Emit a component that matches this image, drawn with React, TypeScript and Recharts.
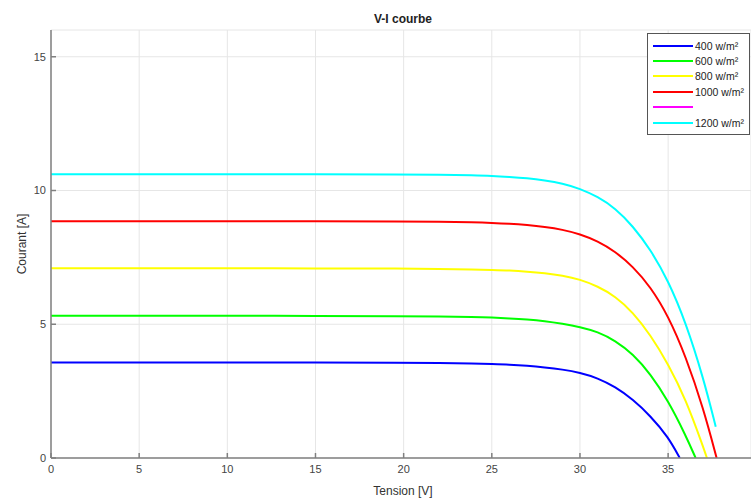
import { CartesianGrid, Legend, Line, LineChart, XAxis, YAxis } from 'recharts';

// tension (V) / courant (A) samples per irradiance
const voltsBlue = [0, 5, 10, 15, 20, 22, 24, 25, 26, 27, 28, 29, 30, 31, 32, 33, 34, 35, 35.66];
const ampsBlue = [3.57, 3.57, 3.57, 3.57, 3.56, 3.55, 3.53, 3.51, 3.49, 3.45, 3.39, 3.31, 3.19, 2.99, 2.66, 2.19, 1.57, 0.79, 0];

const voltsGreen = [0, 5, 10, 15, 20, 22, 24, 25, 26, 27, 28, 29, 30, 31, 32, 33, 34, 35, 36, 36.56];
const ampsGreen = [5.32, 5.32, 5.32, 5.31, 5.3, 5.29, 5.27, 5.25, 5.22, 5.18, 5.12, 5.02, 4.9, 4.72, 4.39, 3.89, 3.14, 2.14, 0.84, 0];

const voltsYellow = [0, 5, 10, 15, 20, 22, 24, 25, 26, 27, 28, 29, 30, 31, 32, 33, 34, 35, 36, 37, 37.2];
const ampsYellow = [7.09, 7.09, 7.09, 7.09, 7.08, 7.07, 7.05, 7.03, 7.01, 6.97, 6.91, 6.82, 6.68, 6.42, 6.05, 5.45, 4.6, 3.52, 2.2, 0.4, 0];

const voltsRed = [0, 5, 10, 15, 20, 22, 24, 25, 26, 27, 28, 29, 30, 31, 32, 33, 34, 35, 36, 37, 37.75];
const ampsRed = [8.85, 8.85, 8.85, 8.85, 8.84, 8.83, 8.81, 8.79, 8.76, 8.71, 8.64, 8.54, 8.37, 8.11, 7.72, 7.16, 6.4, 5.32, 3.8, 1.85, 0];

const voltsCyan = [0, 5, 10, 15, 20, 22, 24, 25, 26, 27, 28, 29, 30, 31, 32, 33, 34, 35, 36, 37, 37.7];
const ampsCyan = [10.61, 10.61, 10.61, 10.61, 10.6, 10.59, 10.57, 10.55, 10.51, 10.46, 10.38, 10.27, 10.07, 9.77, 9.34, 8.67, 7.79, 6.64, 5.07, 2.99, 1.17];

const xTicks = [0, 5, 10, 15, 20, 25, 30, 35];
const yTicks = [0, 5, 10, 15];

// the magenta entry has no curve and no label
const legendItems = [
  { label: '400 w/m²', color: '#0000ff' },
  { label: '600 w/m²', color: '#00ff00' },
  { label: '800 w/m²', color: '#ffff00' },
  { label: '1000 w/m²', color: '#ff0000' },
  { label: '', color: '#ff00ff' },
  { label: '1200 w/m²', color: '#00ffff' },
];

const toPoints = (volts: number[], amps: number[]) => volts.map((v, k) => ({ v, i: amps[k] }));

const series = [
  { name: '400 w/m²', color: '#0000ff', data: toPoints(voltsBlue, ampsBlue) },
  { name: '600 w/m²', color: '#00ff00', data: toPoints(voltsGreen, ampsGreen) },
  { name: '800 w/m²', color: '#ffff00', data: toPoints(voltsYellow, ampsYellow) },
  { name: '1000 w/m²', color: '#ff0000', data: toPoints(voltsRed, ampsRed) },
  { name: '1200 w/m²', color: '#00ffff', data: toPoints(voltsCyan, ampsCyan) },
];

const font = '"Liberation Sans", Arial, sans-serif';
const axisColor = '#808080';
const tickStyle = { fontSize: 11, fill: '#444', fontFamily: font };

function LegendBox() {
  return (
    <div
      style={{
        border: '1px solid #555',
        background: '#fff',
        padding: '4px 0 4px 5px',
        fontFamily: font,
        fontSize: 10.5,
        color: '#222',
        boxSizing: 'border-box',
        width: 103,
      }}
    >
      {legendItems.map((item, k) => (
        <div key={k} style={{ display: 'flex', alignItems: 'center', height: 15.4 }}>
          <span style={{ display: 'inline-block', width: 40, height: 2, background: item.color, marginRight: 2 }} />
          <span>{item.label}</span>
        </div>
      ))}
    </div>
  );
}

export default function App() {
  return (
    <div style={{ position: 'absolute', left: 0, top: 0, background: '#fff' }}>
      <LineChart width={751} height={500} margin={{ top: 30, right: 0, bottom: 0, left: 0 }}>
        <CartesianGrid stroke="#e6e6e6" strokeWidth={1} />
        <XAxis
          type="number"
          dataKey="v"
          domain={[0, 39.7]}
          allowDataOverflow
          ticks={xTicks}
          height={42}
          stroke={axisColor}
          strokeWidth={1.5}
          tickSize={-5}
          tickMargin={12}
          tick={tickStyle}
        />
        <YAxis
          type="number"
          dataKey="i"
          domain={[0, 16]}
          allowDataOverflow
          ticks={yTicks}
          width={51}
          stroke={axisColor}
          strokeWidth={1.5}
          tickSize={-5}
          tickMargin={10}
          tick={tickStyle}
        />
        <Legend
          layout="horizontal"
          verticalAlign="middle"
          align="center"
          content={() => <LegendBox />}
          wrapperStyle={{ position: 'absolute', left: 647, top: 33, width: 103 }}
        />
        {series.map((s) => (
          <Line
            key={s.name}
            data={s.data}
            dataKey="i"
            name={s.name}
            type="basis"
            stroke={s.color}
            strokeWidth={2}
            dot={false}
            activeDot={false}
            isAnimationActive={false}
          />
        ))}
        <text x={403} y={23} textAnchor="middle" fontFamily={font} fontSize={12} fontWeight="bold" fill="#222">
          V-I courbe
        </text>
        <text x={403} y={495} textAnchor="middle" fontFamily={font} fontSize={12} fill="#333">
          Tension [V]
        </text>
        <text
          x={26}
          y={244}
          textAnchor="middle"
          fontFamily={font}
          fontSize={12}
          fill="#333"
          transform="rotate(-90 26 244)"
        >
          Courant [A]
        </text>
      </LineChart>
    </div>
  );
}
